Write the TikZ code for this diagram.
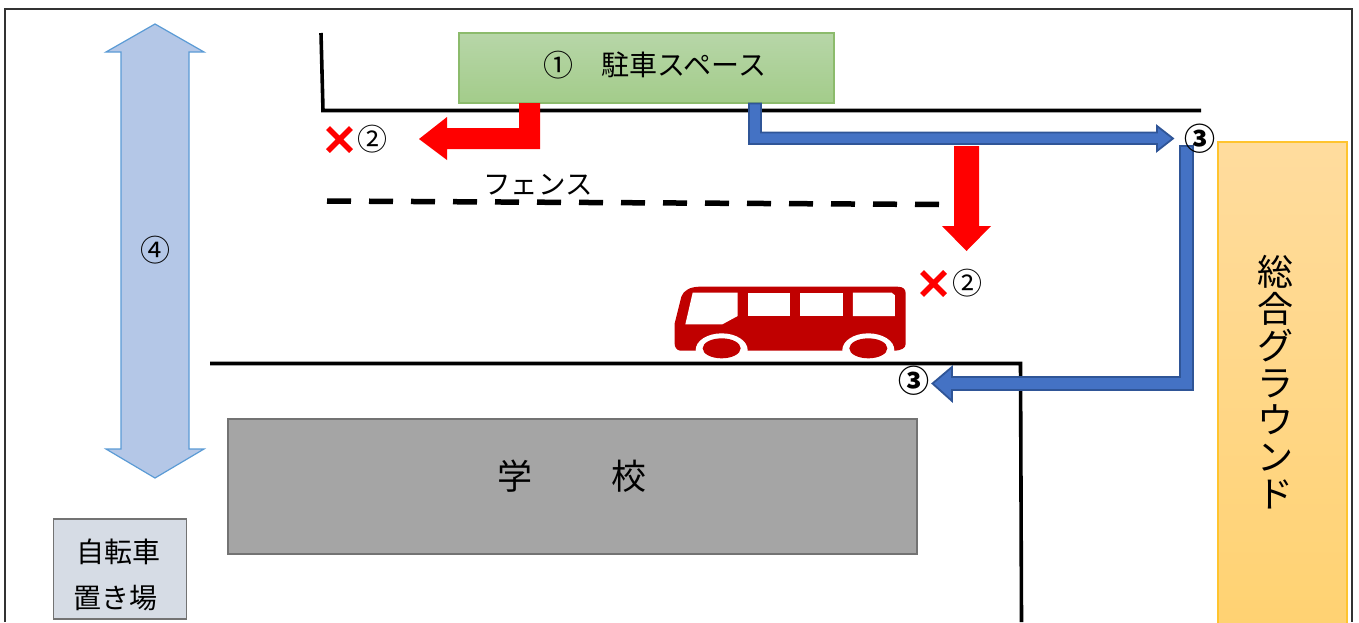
\documentclass[tikz,border=0pt]{standalone}
\usepackage{fontspec}
\setmainfont{Noto Sans CJK JP}
\definecolor{blue4}{HTML}{4472C4}
\definecolor{blue5}{HTML}{2F5597}
\definecolor{busc}{HTML}{C00000}
\definecolor{gtop}{HTML}{B7D6A8}
\definecolor{gbot}{HTML}{A3CC8A}
\definecolor{gline}{HTML}{8CBB6C}
\definecolor{otop}{HTML}{FFDC9E}
\definecolor{obot}{HTML}{FFD272}
\definecolor{oline}{HTML}{FFC42E}
\definecolor{dfill}{HTML}{B4C7E7}
\definecolor{dline}{HTML}{5B9BD5}
\definecolor{schoolgrey}{HTML}{A5A5A5}
\definecolor{bikefill}{HTML}{D6DCE5}
\tikzset{
  wall/.style={draw=black,line width=3.6pt,line join=miter},
  fence/.style={draw=black,line width=5.5pt,dash pattern=on 24pt off 18pt},
  redarrow/.style={fill=red,draw=none},
  bluearrow/.style={fill=blue4,draw=blue5,line width=1.8pt,line join=miter},
  cross/.style={draw=red,line width=5.6pt},
  lbl/.style={inner sep=0pt,outer sep=0pt,font=\fontsize{28}{30}\selectfont,text=black},
  num/.style={inner sep=0pt,outer sep=0pt,font=\fontsize{30}{36}\selectfont,text=black},
  boldnum/.style={inner sep=0pt,outer sep=0pt,font=\fontsize{31}{36}\selectfont\bfseries,text=black},
  boxed/.style={inner sep=0pt,outer sep=0pt,line width=1.3pt},
  buswin/.style={fill=white,draw=none},
  busred/.style={fill=busc,draw=none}
}
\begin{document}
\begin{tikzpicture}[x=1pt,y=-1pt]
\useasboundingbox (0,0) rectangle (1359,622);
% frame
\draw[line width=1.5pt,draw=black!80] (5,622) -- (5,9) -- (1352,9) -- (1352,622);
% walls
\coordinate (wa) at (321,33);
\coordinate (wb) at (323,110.5);
\coordinate (wc) at (1201,110.5);
\draw[wall] (wa) -- (wb) -- (wc);
\coordinate (wd) at (210,363.5);
\coordinate (we) at (1020.5,363.5);
\coordinate (wf) at (1021.5,622);
\draw[wall] (wd) -- (we) -- (wf);
% fence
\coordinate (fa) at (327,201);
\coordinate (fb) at (940,204.5);
\draw[fence] (fa) -- (fb);
\node[lbl,font=\fontsize{27.5}{30}\selectfont] (fencelabel) at (538,185) {フェンス};
% parking
\node[boxed,draw=gline,top color=gtop,bottom color=gbot,minimum width=375pt,minimum height=70pt] (parking) at (646.5,68) {};
\node[num] (n1) at (558,65) {①};
\node[lbl] (parktext) at (684,65) {駐車スペース};
% red bent arrow
\fill[redarrow] (519,103) -- (540,103) -- (540,149) -- (447,149) -- (447,160) -- (419,139) -- (447,117) -- (447,128) -- (519,128) -- cycle;
% blue bent arrow
\filldraw[bluearrow] (749,103.5) -- (761,103.5) -- (761,132.5) -- (1157,132.5) -- (1157,126) -- (1173,138.5) -- (1157,151) -- (1157,144) -- (749,144) -- cycle;
% red down arrow
\fill[redarrow] (954,146) -- (979,146) -- (979,226) -- (991,226) -- (966.5,251) -- (942,226) -- (954,226) -- cycle;
% blue second arrow
\filldraw[bluearrow] (1180,146) -- (1193,146) -- (1193,390) -- (952,390) -- (952,401) -- (932.5,383.5) -- (952,367) -- (952,377) -- (1180,377) -- cycle;
% crosses and numbers
\draw[cross] (328,128) -- (351,151) (351,128) -- (328,151);
\node[num] (n2a) at (372,139) {②};
\draw[cross] (922,272) -- (945,295) (945,272) -- (922,295);
\node[num] (n2b) at (967,283) {②};
\node[boldnum] (n3a) at (1200,139) {③};
\node[boldnum] (n3b) at (914,381) {③};
% double arrow
\filldraw[fill=dfill,draw=dline,line width=1.2pt] (155,24) -- (204,52) -- (189,52) -- (189,449) -- (204,449) -- (155,478) -- (106,449) -- (121,449) -- (121,52) -- (106,52) -- cycle;
\node[num] (n4) at (155,250) {④};
% school
\node[boxed,draw=black!55,fill=schoolgrey,minimum width=689pt,minimum height=135pt] (school) at (572.5,486.5) {};
\node[lbl,font=\fontsize{35}{38}\selectfont] (s1) at (515,476) {学};
\node[lbl,font=\fontsize{35}{38}\selectfont] (s2) at (629,476) {校};
% bicycle
\node[boxed,draw=black!55,fill=bikefill,minimum width=133pt,minimum height=100pt] (bike) at (120,569) {};
\node[lbl] (b1) at (118,552) {自転車};
\node[lbl] (b2) at (115,598) {置き場};
% ground
\node[boxed,draw=oline,top color=otop,bottom color=obot,minimum width=129pt,minimum height=482pt] (ground) at (1282.5,383) {};
\node[inner sep=0pt,outer sep=0pt,align=center,font=\fontsize{36}{37}\selectfont] (gtext) at (1275,382) {総\\合\\グ\\ラ\\ウ\\ン\\ド};
% bus
\begin{scope}[shift={(660,260)},x=0.3333pt,y=-0.3333pt]
\fill[busred] (120,80) -- (712,80) .. controls (730,80) and (737,88) .. (737,100) -- (737,252) .. controls (737,264) and (725,272) .. (700,272)
  -- (60,272) .. controls (50,270) and (44,262) .. (44,252) -- (44,190) -- (64,110) .. controls (70,92) and (90,80) .. (120,80) -- cycle;
\begin{scope}
\clip (0,0) rectangle (800,272);
\fill[white] (185,270) ellipse [x radius=78,y radius=50];
\fill[white] (625,270) ellipse [x radius=78,y radius=50];
\end{scope}
\fill[busred] (185,265) ellipse [x radius=57,y radius=30];
\fill[busred] (625,265) ellipse [x radius=57,y radius=30];
\fill[buswin] (98,98) -- (233,98) -- (233,168) -- (187,193) -- (76,193) -- cycle;
\fill[buswin] (264,98) rectangle (390,168);
\fill[buswin] (421,98) rectangle (548,168);
\fill[buswin] (579,98) -- (695,98) -- (705,106) -- (705,168) -- (579,168) -- cycle;
\end{scope}
\end{tikzpicture}
\end{document}
